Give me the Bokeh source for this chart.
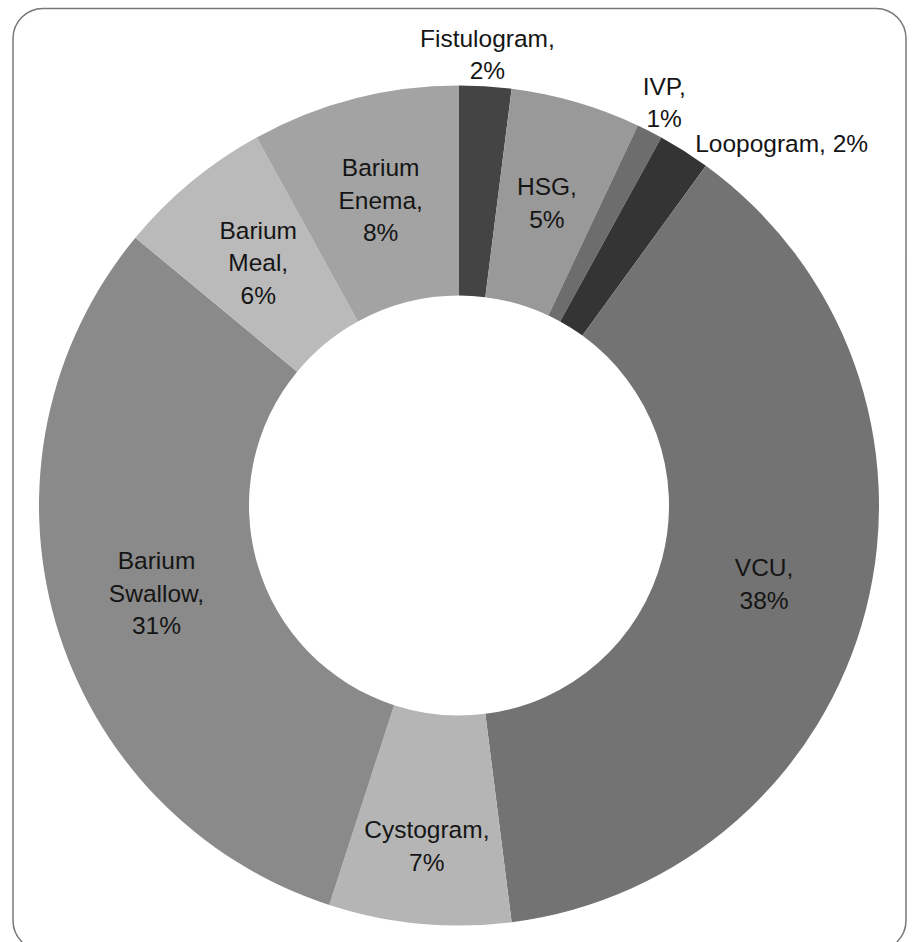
import math
from bokeh.plotting import figure
from bokeh.models import Range1d, BoxAnnotation, ColumnDataSource
from bokeh.embed import file_html
from bokeh.resources import INLINE
from bokeh.core.properties import value

# ---- data (clockwise from 12 o'clock) ----
categories = ["Fistulogram", "HSG", "IVP", "Loopogram", "VCU",
              "Cystogram", "Barium Swallow", "Barium Meal", "Barium Enema"]
percents = [2, 5, 1, 2, 38, 7, 31, 6, 8]
colors = ["#444444", "#999999", "#6d6d6d", "#343434", "#737373",
          "#b5b5b5", "#8a8a8a", "#bababa", "#a3a3a3"]

# ---- label layout (style, not data) ----
# radius of label anchor in px, and angle shift in degrees
label_radius = [452, 315, 452, 485, 315, 342, 315, 315, 315]
label_shift = [0, 0, 0, 9.3, 0, 0, 0, 0, 0]
single_line = ["Loopogram"]

W, H = 914, 942
CX, CY = 458.5, H - 505
R_OUT, R_IN = 420, 210

total = float(sum(percents))
starts, ends, lx, ly, texts = [], [], [], [], []
cum = 0.0
for i, (name, pct) in enumerate(zip(categories, percents)):
    t0 = cum / total * 2 * math.pi
    cum += pct
    t1 = cum / total * 2 * math.pi
    starts.append(math.pi / 2 - t0)
    ends.append(math.pi / 2 - t1)
    tm = (t0 + t1) / 2 + math.radians(label_shift[i])
    lx.append(CX + label_radius[i] * math.sin(tm))
    ly.append(CY + label_radius[i] * math.cos(tm))
    if name in single_line:
        texts.append(f"{name}, {pct}%")
    else:
        texts.append(name.replace(" ", "\n") + f",\n{pct}%")

src = ColumnDataSource(dict(cat=categories, start=starts, end=ends,
                            color=colors, x=[CX] * len(categories),
                            y=[CY] * len(categories)))
lab = ColumnDataSource(dict(x=lx, y=ly, text=texts))

p = figure(width=W, height=H, x_range=Range1d(0, W), y_range=Range1d(0, H),
           output_backend="svg", toolbar_location=None, min_border=0,
           x_axis_location=None, y_axis_location=None)
p.grid.visible = False
p.outline_line_color = None
p.background_fill_color = "white"
p.border_fill_color = "white"

p.annular_wedge(x="x", y="y", inner_radius=R_IN, outer_radius=R_OUT,
                start_angle="start", end_angle="end", direction="clock",
                fill_color="color", line_color=None, source=src)

p.text(x="x", y="y", text="text", source=lab,
       text_font=value("Liberation Sans"), text_font_size=value("24.5px"),
       text_align="center", text_baseline="middle", text_line_height=1.2,
       text_color="#151515")

frame = BoxAnnotation(left=12.5, right=905.5, top=H - 8, bottom=H - 950,
                      fill_alpha=0, line_color="#777777", line_alpha=1.0,
                      line_width=1.5, border_radius=30)
p.add_layout(frame)

open("out.html", "w").write(file_html(p, INLINE))
